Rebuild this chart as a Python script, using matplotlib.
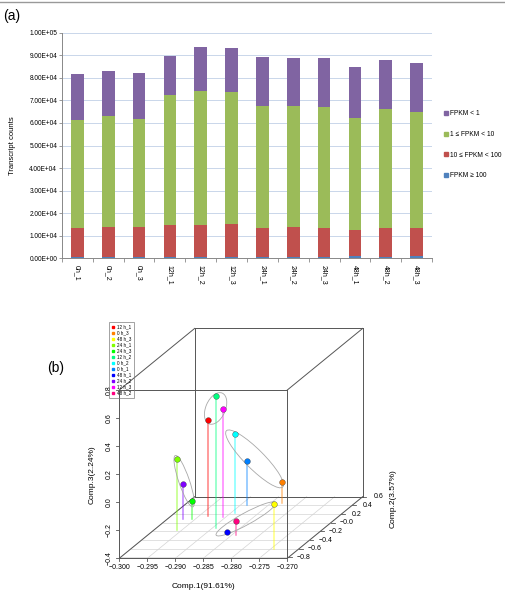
import numpy as np
import matplotlib
matplotlib.use('Agg')
import matplotlib.pyplot as plt
from matplotlib.lines import Line2D
from matplotlib.patches import Ellipse

plt.rcParams['font.family'] = ['Liberation Sans', 'DejaVu Sans']

W, H = 506, 599

# ---- panel (a) data: transcript counts per FPKM class ----
samples = ['0h_1', '0h_2', '0h_3', '12h_1', '12h_2', '12h_3',
           '24h_1', '24h_2', '24h_3', '48h_1', '48h_2', '48h_3']
fpkm_ge100 = [600, 600, 600, 600, 600, 600, 600, 600, 600, 900, 600, 900]
fpkm_10_100 = [12800, 13400, 13400, 14200, 14200, 14600, 12800, 13100, 12800, 11700, 12700, 12400]
fpkm_1_10 = [47900, 48900, 47700, 57700, 59200, 58500, 54000, 53700, 53700, 49600, 52900, 51500]
fpkm_lt1 = [20400, 20000, 20300, 17300, 19600, 19400, 22000, 21500, 21800, 22600, 21800, 21800]
class_labels = ['FPKM < 1', '1 \u2264 FPKM < 10', '10 \u2264 FPKM < 100', 'FPKM \u2265 100']
class_colors = ['#8064A2', '#9BBB59', '#C0504D', '#4F81BD']
ytick_vals = list(range(0, 100001, 10000))
ytick_labels = ['0.00E+00', '1.00E+04', '2.00E+04', '3.00E+04', '4.00E+04', '5.00E+04',
                '6.00E+04', '7.00E+04', '8.00E+04', '9.00E+04', '1.00E+05']

# ---- panel (b) data: PCA scores ----
pca_samples = ['12 h_1', '0 h_3', '48 h_3', '24 h_1', '24 h_3', '12 h_2',
               '0 h_2', '0 h_1', '48 h_1', '24 h_2', '12 h_3', '48 h_2']
comp1 = [-0.2935, -0.2830, -0.2743, -0.2958, -0.2955, -0.2894,
         -0.2893, -0.2888, -0.2863, -0.2972, -0.2906, -0.2842]
comp2 = [0.162, 0.447, -0.613, -0.168, 0.079, -0.115,
         0.231, 0.401, -0.237, 0.079, 0.139, -0.283]
comp3 = [0.280, -0.250, -0.078, 0.108, -0.269, 0.538,
         0.163, -0.081, -0.390, -0.147, 0.369, -0.300]
pca_colors = ['#FF0000', '#FF8000', '#FFFF00', '#80FF00', '#00FF00', '#00FF80',
              '#00FFFF', '#0080FF', '#0000FF', '#8000FF', '#FF00FF', '#FF0080']
groups = ['0 h', '12 h', '24 h', '48 h']

fig = plt.figure(figsize=(W / 100, H / 100), dpi=100)
fig.add_artist(Line2D([0, 1], [1 - 1.7 / H] * 2, color='#999999', lw=1))

# =================== (a) stacked bars ===================
ax = fig.add_axes([62 / W, 1 - 258.3 / H, 370 / W, 225.6 / H])
x = np.arange(len(samples))
bottom = np.zeros(len(samples))
stack = [fpkm_ge100, fpkm_10_100, fpkm_1_10, fpkm_lt1]
stack_cols = class_colors[::-1]
for vals, c in zip(stack, stack_cols):
    ax.bar(x, vals, width=0.41, bottom=bottom, color=c, edgecolor='none', zorder=3)
    bottom += np.array(vals)

ax.set_xlim(-0.5, len(samples) - 0.5)
ax.set_ylim(0, 100000)
ax.set_yticks(ytick_vals)
ax.set_yticklabels(ytick_labels, fontsize=4.7)
ax.set_xticks(x)
ax.set_xticklabels(samples, rotation=-90, fontsize=5)
ax.set_xticks(np.arange(-0.5, len(samples)), minor=True)
ax.tick_params(axis='x', which='major', length=0, pad=5)
ax.tick_params(axis='x', which='minor', length=3, color='#888888', width=0.6)
ax.tick_params(axis='y', length=2, color='#888888', width=0.6, pad=1.5)
ax.grid(axis='y', color='#c9d6ea', lw=0.7, zorder=0)
for s in ['top', 'right']:
    ax.spines[s].set_visible(False)
for s in ['left', 'bottom']:
    ax.spines[s].set_color('#888888')
    ax.spines[s].set_linewidth(0.7)
ax.set_ylabel('Transcript counts', fontsize=5.5)
ax.yaxis.set_label_coords(-0.124, 0.5)

handles = [Line2D([], [], marker='s', ls='', color=c, markersize=2.6) for c in class_colors]
ax.legend(handles, class_labels, loc='upper left', bbox_to_anchor=(441 / W, 1 - 107 / H),
          bbox_transform=fig.transFigure, frameon=False, fontsize=4.8,
          handlelength=0.6, handletextpad=0.3, labelspacing=2.05, borderpad=0)

fig.text(12 / W, 1 - 16 / H, '(a)', fontsize=10, ha='center', va='center')
fig.text(56 / W, 1 - 368 / H, '(b)', fontsize=10, ha='center', va='center')

# =================== (b) 3D PCA (oblique projection) ===================
axb = fig.add_axes([119.3 / W, 1 - 558.3 / H, 168 / W, 168.3 / H])
axb.set_xlim(0, 1)
axb.set_ylim(0, 1)
axb.axis('off')

xmin, xmax = -0.300, -0.270
ymin, ymax = -0.82, 0.60
zmin, zmax = -0.4, 0.8
DX, DY = 75.4 / 168, 61.6 / 168.3


def proj(px, py, pz):
    t = (py - ymin) / (ymax - ymin)
    return (px - xmin) / (xmax - xmin) + t * DX, (pz - zmin) / (zmax - zmin) + t * DY


def seg(p0, p1, **kw):
    a, b = proj(*p0), proj(*p1)
    axb.plot([a[0], b[0]], [a[1], b[1]], clip_on=False, **kw)


# floor grid
gkw = dict(color='#d4d4d4', lw=0.5, zorder=1)
xt = np.round(np.arange(-0.300, -0.2699, 0.005), 3)
yt = np.round(np.arange(-0.8, 0.61, 0.2), 1)
zt = np.round(np.arange(-0.4, 0.81, 0.2), 1)
for v in xt:
    seg((v, ymin, zmin), (v, ymax, zmin), **gkw)
for v in yt:
    seg((xmin, v, zmin), (xmax, v, zmin), **gkw)

# box
bkw = dict(color='#555555', lw=0.7, zorder=2)
for a, b in [((xmin, ymin, zmin), (xmax, ymin, zmin)), ((xmin, ymin, zmax), (xmax, ymin, zmax)),
             ((xmin, ymin, zmin), (xmin, ymin, zmax)), ((xmax, ymin, zmin), (xmax, ymin, zmax)),
             ((xmin, ymax, zmin), (xmax, ymax, zmin)), ((xmin, ymax, zmax), (xmax, ymax, zmax)),
             ((xmin, ymax, zmin), (xmin, ymax, zmax)), ((xmax, ymax, zmin), (xmax, ymax, zmax)),
             ((xmin, ymin, zmin), (xmin, ymax, zmin)), ((xmax, ymin, zmin), (xmax, ymax, zmin)),
             ((xmin, ymin, zmax), (xmin, ymax, zmax)), ((xmax, ymin, zmax), (xmax, ymax, zmax))]:
    seg(a, b, **bkw)

# axis ticks and labels
tkw = dict(color='#555555', lw=0.6, clip_on=False)
for v in xt:
    u0, v0 = proj(v, ymin, zmin)
    axb.plot([u0, u0], [v0, v0 - 0.018], **tkw)
    axb.text(u0, v0 - 0.055, ('%.3f' % v).replace('-', '\u2212'), fontsize=5,
             ha='center', va='center')
for v in zt:
    u0, v0 = proj(xmin, ymin, v)
    axb.plot([u0, u0 - 0.018], [v0, v0], **tkw)
    axb.text(u0 - 0.062, v0, ('%.1f' % v).replace('-', '\u2212'), fontsize=5,
             ha='center', va='center', rotation=90)
for v in yt:
    u0, v0 = proj(xmax, v, zmin)
    axb.plot([u0, u0 + 0.022], [v0, v0], **tkw)
    axb.text(u0 + 0.093, v0, ('%.1f' % v).replace('-', '\u2212'), fontsize=5,
             ha='center', va='center')
axb.text(0.5, -0.169, 'Comp.1(91.61%)', fontsize=6, ha='center', va='center')
axb.text(-0.164, 0.495, 'Comp.3(2.24%)', fontsize=6, ha='center', va='center', rotation=90)
axb.text(1.631, 0.357, 'Comp.2(3.57%)', fontsize=6, ha='center', va='center', rotation=90)

# stems and points
uv = {}
for name, cx, cy, cz, c in zip(pca_samples, comp1, comp2, comp3, pca_colors):
    u0, v0 = proj(cx, cy, zmin)
    u1, v1 = proj(cx, cy, cz)
    uv[name] = (u1, v1)
    axb.plot([u0, u1], [v0, v1], color=c, alpha=0.5, lw=1.1, zorder=3, clip_on=False)
    axb.scatter([u1], [v1], s=17, color=c, edgecolor='#333333', linewidth=0.25,
                zorder=5, clip_on=False)

# group ellipses (drawn in projected plane)
for g in groups:
    pts = np.array([uv[n] for n in pca_samples if n.startswith(g + '_')])
    cen = pts.mean(axis=0)
    cov = np.cov(pts.T)
    vals, vecs = np.linalg.eigh(cov)
    ang = np.degrees(np.arctan2(vecs[1, 1], vecs[0, 1]))
    a = 1.1 * np.sqrt(vals[1]) + 2.5 / 168
    b = 1.1 * np.sqrt(vals[0]) + 3.2 / 168
    axb.add_patch(Ellipse(cen, 2 * a, 2 * b, angle=ang, fill=False, ec='#a8a8a8',
                          lw=0.6, zorder=4, clip_on=False))

leg_handles = [Line2D([], [], marker='s', ls='', color=c, markersize=1.6) for c in pca_colors]
leg = axb.legend(leg_handles, pca_samples, loc='upper left',
                 bbox_to_anchor=(109.3 / W, 1 - 321.7 / H), bbox_transform=fig.transFigure,
                 fontsize=3.3, handlelength=0.5, handletextpad=0.6, labelspacing=0.22,
                 borderpad=0.55, borderaxespad=0, fancybox=False)
leg.get_frame().set_facecolor('none')
leg.get_frame().set_edgecolor('#777777')
leg.get_frame().set_linewidth(0.6)

fig.savefig('out.png', dpi=100)
